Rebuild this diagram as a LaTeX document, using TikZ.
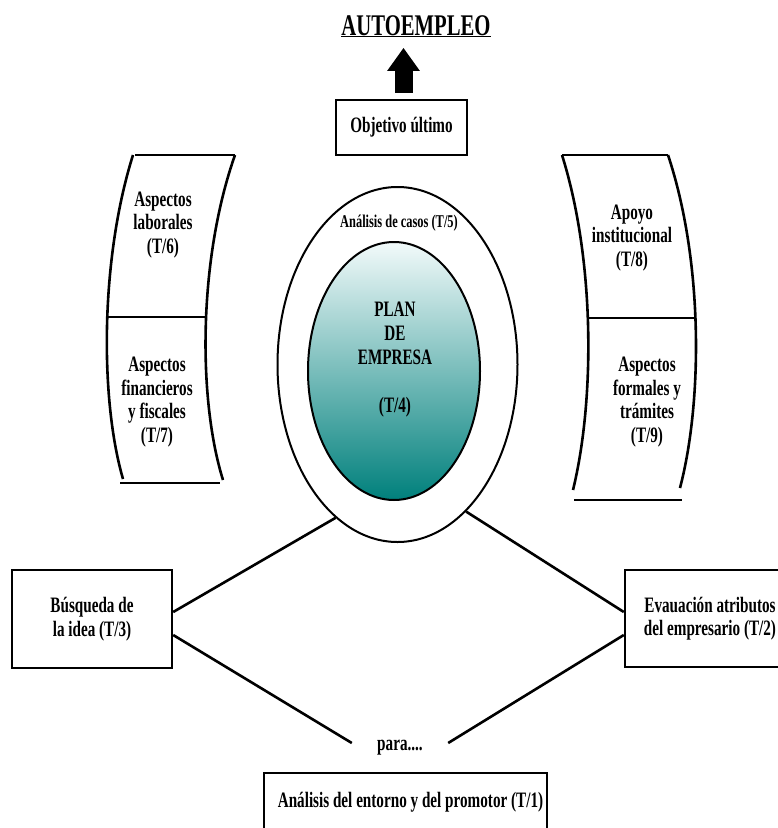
\documentclass[tikz,border=0pt]{standalone}
\usepackage{fontspec}
\setmainfont{Liberation Serif}[FakeStretch=0.69]
\usetikzlibrary{arrows.meta,shapes.geometric}
\definecolor{planTop}{RGB}{242,250,250}
\definecolor{planBot}{RGB}{0,128,124}
\newcommand\curvedSide[4]{
        \draw[panel] (#1) .. controls (#2) and (#3) .. (#4);
}
\tikzset{
    box/.style={draw, line width=2.4pt, inner sep=0pt, align=center,
        font=\bfseries\fontsize{22}{23.5}\selectfont},
    lbl/.style={align=center, font=\bfseries\fontsize{22}{23.5}\selectfont},
    panel/.style={line width=2.6pt},
    link/.style={line width=2.6pt}
}
\begin{document}
\begin{tikzpicture}[x=1pt,y=-1pt]

    \useasboundingbox (0,0) rectangle (778,828);
    \clip (0,0) rectangle (778,828);

    %draws goal and arrow:
    \node[lbl, font=\bfseries\fontsize{30}{32}\selectfont, anchor=base] (title) at (416,35) {\underline{AUTOEMPLEO}};
    \node[box, minimum width=131pt, minimum height=55pt] (goal) at (401.5,127.5) {Objetivo último};
    \draw[line width=18pt, -{Triangle[length=23pt,width=31pt]}]
        ([xshift=2pt,yshift=6pt]goal.north) -- ([xshift=2pt,yshift=-7pt]goal.north |- title.south);

    %draws the two ellipses:
    \node[ellipse, draw, line width=2pt, minimum width=240pt, minimum height=355pt, inner sep=0pt] (ring) at (397.5,364.5) {};
    \node[ellipse, draw, line width=2pt, top color=planTop, bottom color=planBot,
        minimum width=172pt, minimum height=258pt, inner sep=0pt] (core) at (394,371) {};
    \node[lbl, font=\bfseries\fontsize{18}{20}\selectfont] (casos) at (399,223) {Análisis de casos (T/5)};
    \node[lbl, font=\bfseries\fontsize{22}{24}\selectfont] (plan) at (395,360) {PLAN\\DE\\EMPRESA\\[24pt](T/4)};

    %draws left panel:
    \draw[panel] (135,155) -- (235,155);
    \curvedSide{133,155}{100,260}{100,400}{123,479}
    \curvedSide{235,155}{198,260}{198,400}{223,480}
    \draw[panel] (106,317) -- (205,317);
    \draw[panel] (120,483) -- (220,483);
    \node[lbl] (laboral) at (163,225) {Aspectos\\laborales\\(T/6)};
    \node[lbl] (fiscal) at (157,402) {Aspectos\\financieros\\y fiscales\\(T/7)};

    %draws right panel:
    \draw[panel] (562,155) -- (668,155);
    \curvedSide{562,155}{595,260}{595,400}{573,490}
    \curvedSide{668,155}{703,260}{703,400}{680,488}
    \draw[panel] (588,318) -- (695,318);
    \draw[panel] (574,500) -- (682,500);
    \node[lbl] (apoyo) at (632,238) {Apoyo\\institucional\\(T/8)};
    \node[lbl] (tramite) at (647,402) {Aspectos\\formales y\\trámites\\(T/9)};

    %draws lower boxes:
    \node[box, minimum width=160pt, minimum height=98pt] (idea) at (92,619) {Búsqueda de\\la idea (T/3)};
    \node[box, minimum width=170pt, minimum height=97pt] (eval) at (710,618.5) {Evauación atributos\\del empresario (T/2)};
    \node[box, minimum width=283pt, minimum height=58pt] (entorno) at (405.5,802) {\hspace{10pt}Análisis del entorno y del promotor (T/1)};
    \node[lbl, minimum width=96pt, inner sep=0pt] (para) at (400,748) {para....};

    \draw[link] (ring.248) -- ([yshift=7pt]idea.east);
    \draw[link] ([yshift=-16pt]idea.east) -- ([yshift=5pt]para.west);
    \draw[link] (ring.295) -- ([yshift=6.5pt]eval.west);
    \draw[link] ([yshift=-16.5pt]eval.west) -- ([yshift=5pt]para.east);

\end{tikzpicture}
\end{document}
